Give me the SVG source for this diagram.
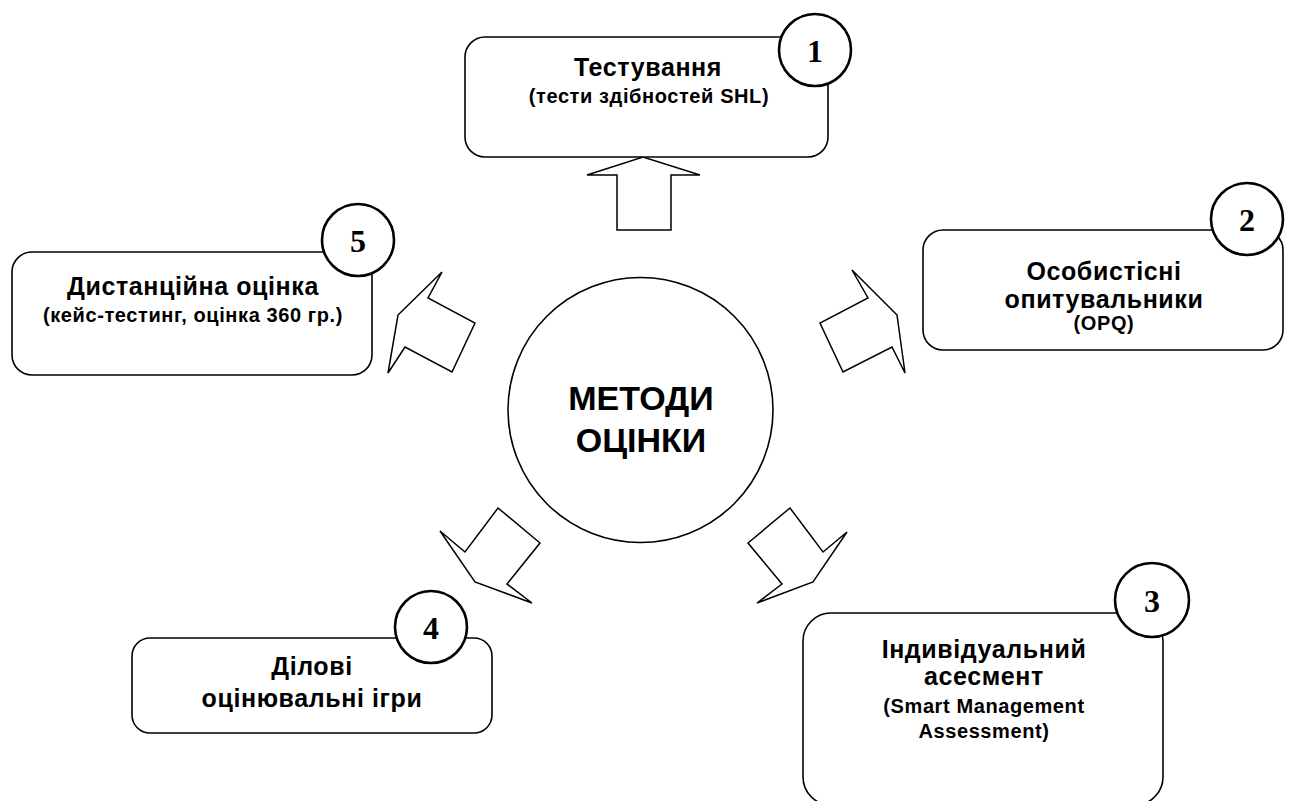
<svg xmlns="http://www.w3.org/2000/svg" width="1291" height="801" viewBox="0 0 1291 801">
<style>
.box{fill:#fff;stroke:#000;stroke-width:1.6}
.num{fill:#fff;stroke:#000;stroke-width:2.6}
.arr{fill:#fff;stroke:#000;stroke-width:1.5;stroke-linejoin:miter}
.t{font-family:"Liberation Sans",Arial,sans-serif;font-weight:bold;fill:#000;text-anchor:middle}
.h{font-size:25px;letter-spacing:0.6px}
.s{font-size:20px;letter-spacing:0.6px}
.n{font-family:"Liberation Serif","Times New Roman",serif;font-weight:bold;font-size:32px;fill:#000;text-anchor:middle}
</style>
<rect width="1291" height="801" fill="#fff"/>
<g id="connectors">
<polygon class="arr" points="617,230 617,175 587,175 643,157 700,175 671,175 671,230"/>
<polygon class="arr" points="398,315 442,272 428,298 475,323 452,372 405,347 388,373"/>
<polygon class="arr" points="897,315 852,270 868,298 820,323 843,372 892,347 905,373"/>
<polygon class="arr" points="498,508 540,543 507,584 532,603 475,582 440,531 465,552"/>
<polygon class="arr" points="790,508 748,543 782,584 757,603 813,582 847,532 823,552"/>
</g>
<g id="center">
<circle cx="640.5" cy="410" r="132.5" fill="#fff" stroke="#000" stroke-width="1.6"/>
<text class="t" x="641" y="410" font-size="34">МЕТОДИ</text>
<text class="t" x="641" y="452" font-size="34">ОЦІНКИ</text>
</g>
<g id="node1">
<rect class="box" x="465" y="37" width="363" height="120" rx="20"/>
<text class="t h" x="648" y="76">Тестування</text>
<text class="t s" x="649" y="103">(тести здібностей SHL)</text>
<circle class="num" cx="815" cy="50" r="36"/>
<text class="n" x="815" y="62">1</text>
</g>
<g id="node2">
<rect class="box" x="923" y="230" width="360" height="120" rx="20"/>
<text class="t h" x="1104" y="280">Особистісні</text>
<text class="t h" x="1104" y="308">опитувальники</text>
<text class="t s" x="1104" y="330">(OPQ)</text>
<circle class="num" cx="1247" cy="219" r="36"/>
<text class="n" x="1247" y="231">2</text>
</g>
<g id="node3">
<rect class="box" x="803" y="613" width="360" height="192" rx="28"/>
<text class="t h" x="984" y="658">Індивідуальний</text>
<text class="t h" x="984" y="685">асесмент</text>
<text class="t s" x="984" y="713">(Smart Management</text>
<text class="t s" x="984" y="738">Assessment)</text>
<circle class="num" cx="1152" cy="600" r="37"/>
<text class="n" x="1152" y="612">3</text>
</g>
<g id="node4">
<rect class="box" x="132" y="638" width="360" height="95" rx="18"/>
<text class="t h" x="312" y="675">Ділові</text>
<text class="t h" x="312" y="707">оцінювальні ігри</text>
<circle class="num" cx="431" cy="627" r="36"/>
<text class="n" x="431" y="639">4</text>
</g>
<g id="node5">
<rect class="box" x="12" y="252" width="360" height="123" rx="20"/>
<text class="t h" x="193" y="295">Дистанційна оцінка</text>
<text class="t s" x="193" y="322">(кейс-тестинг, оцінка 360 гр.)</text>
<circle class="num" cx="358" cy="240" r="36"/>
<text class="n" x="358" y="252">5</text>
</g>
</svg>
